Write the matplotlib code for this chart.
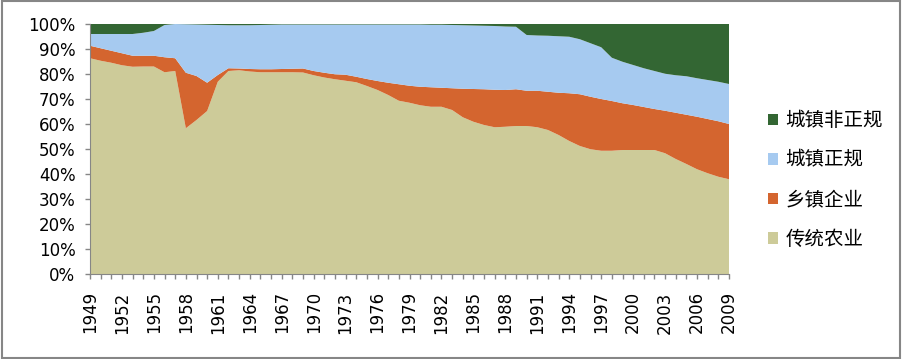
import numpy as np
import matplotlib.pyplot as plt
from matplotlib.patches import Patch, Rectangle

plt.rcParams['font.family'] = ['DejaVu Sans', 'Noto Sans CJK SC']

years = list(range(1949, 2010))

# shares in percent
agri = [86.3, 85.3, 84.5, 83.5, 82.9, 83.0, 83.0, 80.7, 81.2, 58.3,
        61.6, 65.2, 76.9, 81.2, 81.5, 81.0, 80.7, 80.7, 80.7, 80.7,
        80.6, 79.5, 78.6, 77.9, 77.3, 76.7, 75.2, 73.6, 71.6, 69.3,
        68.5, 67.5, 66.9, 66.9, 65.6, 62.7, 60.9, 59.6, 58.7, 58.9,
        59.2, 59.2, 58.7, 57.6, 55.6, 53.2, 51.2, 49.9, 49.3, 49.3,
        49.6, 49.6, 49.6, 49.6, 48.3, 46.0, 44.0, 41.9, 40.3, 38.9,
        37.9]
tve = [5.0, 5.0, 4.8, 4.8, 4.4, 4.3, 4.3, 6.0, 5.1, 22.2,
       17.6, 11.3, 2.7, 1.1, 0.7, 1.0, 1.2, 1.2, 1.3, 1.4,
       1.6, 1.7, 1.9, 2.0, 2.4, 2.2, 2.8, 3.6, 4.9, 6.6,
       6.8, 7.4, 7.8, 7.6, 8.7, 11.4, 13.1, 14.3, 15.0, 14.7,
       14.7, 14.1, 14.6, 15.3, 16.9, 19.1, 20.7, 21.0, 20.7, 19.9,
       18.7, 18.0, 17.2, 16.4, 17.0, 18.5, 19.7, 21.0, 21.7, 22.2,
       22.1]
formal = [4.7, 5.7, 6.7, 7.7, 8.7, 9.2, 9.9, 12.9, 13.7, 19.4,
          20.6, 23.2, 20.0, 17.2, 17.3, 17.5, 17.7, 17.8, 17.8, 17.7,
          17.6, 18.6, 19.3, 19.9, 20.1, 20.9, 21.8, 22.6, 23.3, 23.9,
          24.5, 24.9, 25.0, 25.2, 25.3, 25.4, 25.4, 25.4, 25.5, 25.4,
          25.0, 22.3, 22.1, 22.4, 22.6, 22.6, 22.0, 21.4, 20.7, 17.3,
          16.6, 16.0, 15.5, 15.2, 14.8, 15.0, 15.4, 15.4, 15.6, 15.8,
          16.0]
informal = [4.0, 4.0, 4.0, 4.0, 4.0, 3.5, 2.8, 0.4, 0.0, 0.1,
            0.2, 0.3, 0.4, 0.5, 0.5, 0.5, 0.4, 0.3, 0.2, 0.2,
            0.2, 0.2, 0.2, 0.2, 0.2, 0.2, 0.2, 0.2, 0.2, 0.2,
            0.2, 0.2, 0.3, 0.3, 0.4, 0.5, 0.6, 0.7, 0.8, 1.0,
            1.1, 4.4, 4.6, 4.7, 4.9, 5.1, 6.1, 7.7, 9.3, 13.5,
            15.1, 16.4, 17.7, 18.8, 19.9, 20.5, 20.9, 21.7, 22.4, 23.1,
            24.0]
labels = ['传统农业', '乡镇企业', '城镇正规', '城镇非正规']
colors = ['#CDCB99', '#D4652F', '#A6CAF0', '#336633']

fig = plt.figure(figsize=(9.03, 3.59), dpi=100)
ax = fig.add_axes([90 / 903, 85 / 359, 639 / 903, 250 / 359])

data = np.array([agri, tve, formal, informal])
data = data / data.sum(axis=0) * 100
ax.stackplot(years, data, colors=colors, linewidth=0)

ax.set_xlim(1949, 2009)
ax.set_ylim(0, 100)
ax.set_yticks(range(0, 101, 10))
ax.set_yticklabels([f'{v}%' for v in range(0, 101, 10)], fontsize=12)
ax.set_xticks(years[::3])
ax.set_xticklabels([str(y) for y in years[::3]], rotation=90, fontsize=12)
ax.set_xticks(years, minor=True)
ax.tick_params(which='both', direction='out', length=3.5, color='#868686', width=1)
ax.tick_params(axis='y', pad=7)
ax.tick_params(axis='x', which='major', pad=9)
for s in ['top', 'right']:
    ax.spines[s].set_visible(False)
for s in ['left', 'bottom']:
    ax.spines[s].set_color('#868686')

handles = [Patch(facecolor=c, edgecolor='none', label=l) for c, l in zip(colors, labels)]
handles = handles[::-1]
fig.legend(handles=handles, loc='center left', bbox_to_anchor=(758 / 903, 1 - 180 / 359),
           frameon=False, handlelength=0.55, handleheight=0.55,
           handletextpad=0.35, labelspacing=0.95, borderpad=0,
           prop={'family': ['Noto Sans CJK SC'], 'size': 14})

fig.patches.append(Rectangle((0.002, 0.004), 0.995, 0.992, transform=fig.transFigure,
                             fill=False, edgecolor='#868686', linewidth=1.5))

fig.savefig('out.png', dpi=100)
